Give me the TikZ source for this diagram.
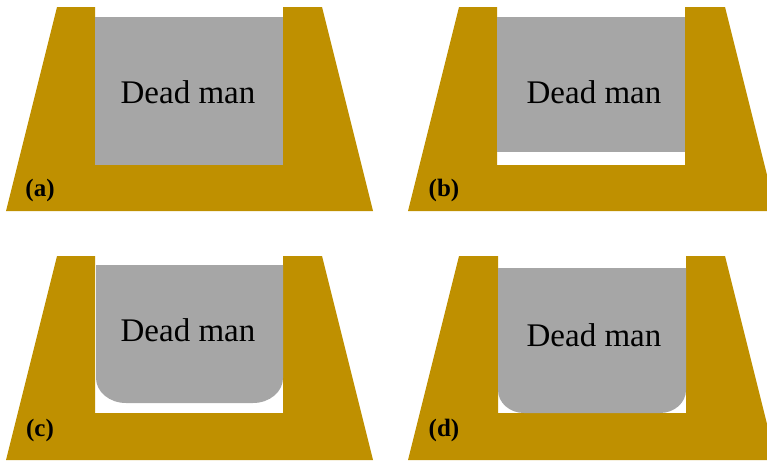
\documentclass[tikz,border=0pt]{standalone}
\usepackage{fontspec}
\setmainfont{Liberation Serif}
\definecolor{gold}{HTML}{BF9000}
\definecolor{deadgray}{HTML}{A6A6A6}
\begin{document}
\begin{tikzpicture}[x=1pt,y=-1pt,
  wall/.style={fill=gold,draw=none},
  block/.style={fill=deadgray,draw=none},
  dtext/.style={anchor=base,font=\fontsize{33}{36}\selectfont,inner sep=0pt},
  ptag/.style={anchor=base,font=\fontsize{25}{27}\selectfont\bfseries,inner sep=0pt}]
\useasboundingbox (0,0) rectangle (767,461);
\clip (0,0) rectangle (767,461);
% (a)
\fill[wall] (57,7) -- (95,7) -- (95,165) -- (283,165) -- (283,7) -- (322,7) -- (373,211) -- (6,211) -- cycle;
\fill[block] (95,17) rectangle (283,165);
\node[dtext] (ta) at (188,103) {Dead man};
\node[ptag] (la) at (40,196) {(a)};
% (b)
\fill[wall] (459,7) -- (497,7) -- (497,165) -- (685,165) -- (685,7) -- (725,7) -- (776,211) -- (408,211) -- cycle;
\fill[block] (497,17) rectangle (685,152);
\node[dtext] (tb) at (594,103) {Dead man};
\node[ptag] (lb) at (444,196) {(b)};
% (c)
\fill[wall] (57,256) -- (95,256) -- (95,413) -- (283,413) -- (283,256) -- (322,256) -- (373,460) -- (6,460) -- cycle;
\fill[block] (96,265) -- (283,265) -- (283,378) .. controls (283,391.8) and (269.6,403) .. (253,403) -- (126,403) .. controls (109.4,403) and (96,391.8) .. (96,378) -- cycle;
\node[dtext] (tc) at (188,341) {Dead man};
\node[ptag] (lc) at (40,436) {(c)};
% (d)
\fill[wall] (459,256) -- (498,256) -- (498,413) -- (686,413) -- (686,256) -- (725,256) -- (776,460) -- (408,460) -- cycle;
\fill[block] (498,268) -- (686,268) -- (686,390) .. controls (686,402.7) and (674.4,413) .. (660,413) -- (524,413) .. controls (509.6,413) and (498,402.7) .. (498,390) -- cycle;
\node[dtext] (td) at (594,346) {Dead man};
\node[ptag] (ld) at (444,436) {(d)};
\end{tikzpicture}
\end{document}
